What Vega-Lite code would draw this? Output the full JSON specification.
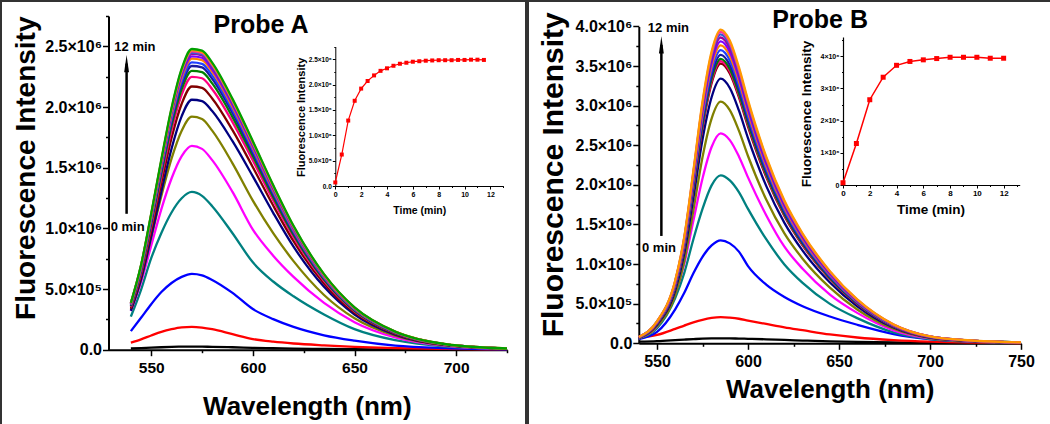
{
"$schema":"https://vega.github.io/schema/vega-lite/v6.json",
"padding":0,
"spacing":0,
"background":"white",
"config":{"view":{"stroke":"#333333","strokeWidth":2},"axis":{"grid":false,"domainColor":"#000000","domainWidth":2,"tickColor":"#000000","tickWidth":1.5,"labelColor":"#000000","titleColor":"#000000","labelFont":"Liberation Sans","titleFont":"Liberation Sans","labelFontWeight":"bold","titleFontWeight":"bold","labelOverlap":false,"labelFlush":false,"labelBound":false},"text":{"font":"Liberation Sans"}},
"datasets":{
"specA":[
{"c":0,"w":540,"v":10000},{"c":0,"w":545,"v":13000},{"c":0,"w":550,"v":17000},{"c":0,"w":555,"v":20000},{"c":0,"w":560,"v":23000},{"c":0,"w":565,"v":25000},{"c":0,"w":570,"v":26000},{"c":0,"w":575,"v":25000},{"c":0,"w":580,"v":24000},{"c":0,"w":590,"v":20000},{"c":0,"w":600,"v":15000},{"c":0,"w":610,"v":12000},{"c":0,"w":620,"v":9000},{"c":0,"w":635,"v":6000},{"c":0,"w":650,"v":4000},{"c":0,"w":670,"v":2000},{"c":0,"w":695,"v":1000},{"c":0,"w":725,"v":0},
{"c":1,"w":540,"v":58000},{"c":1,"w":545,"v":85000},{"c":1,"w":550,"v":117000},{"c":1,"w":555,"v":147000},{"c":1,"w":560,"v":169000},{"c":1,"w":565,"v":184000},{"c":1,"w":570,"v":188000},{"c":1,"w":575,"v":182000},{"c":1,"w":580,"v":169000},{"c":1,"w":590,"v":128000},{"c":1,"w":600,"v":88000},{"c":1,"w":610,"v":66000},{"c":1,"w":620,"v":51000},{"c":1,"w":635,"v":36000},{"c":1,"w":650,"v":24000},{"c":1,"w":670,"v":13000},{"c":1,"w":695,"v":6000},{"c":1,"w":725,"v":2000},
{"c":2,"w":540,"v":153000},{"c":2,"w":545,"v":263000},{"c":2,"w":550,"v":375000},{"c":2,"w":555,"v":475000},{"c":2,"w":560,"v":550000},{"c":2,"w":565,"v":600000},{"c":2,"w":570,"v":625000},{"c":2,"w":575,"v":613000},{"c":2,"w":580,"v":575000},{"c":2,"w":590,"v":468000},{"c":2,"w":600,"v":335000},{"c":2,"w":610,"v":252000},{"c":2,"w":620,"v":188000},{"c":2,"w":635,"v":119000},{"c":2,"w":650,"v":75000},{"c":2,"w":670,"v":34000},{"c":2,"w":695,"v":13000},{"c":2,"w":725,"v":3000},
{"c":3,"w":540,"v":273000},{"c":3,"w":545,"v":494000},{"c":3,"w":550,"v":754000},{"c":3,"w":555,"v":962000},{"c":3,"w":560,"v":1131000},{"c":3,"w":565,"v":1248000},{"c":3,"w":570,"v":1300000},{"c":3,"w":575,"v":1268000},{"c":3,"w":580,"v":1183000},{"c":3,"w":590,"v":960000},{"c":3,"w":600,"v":720000},{"c":3,"w":610,"v":562000},{"c":3,"w":620,"v":440000},{"c":3,"w":635,"v":290000},{"c":3,"w":650,"v":169000},{"c":3,"w":670,"v":78000},{"c":3,"w":695,"v":26000},{"c":3,"w":725,"v":7000},
{"c":4,"w":540,"v":319000},{"c":4,"w":545,"v":554000},{"c":4,"w":550,"v":857000},{"c":4,"w":555,"v":1159000},{"c":4,"w":560,"v":1411000},{"c":4,"w":565,"v":1596000},{"c":4,"w":570,"v":1680000},{"c":4,"w":575,"v":1655000},{"c":4,"w":580,"v":1562000},{"c":4,"w":590,"v":1300000},{"c":4,"w":600,"v":990000},{"c":4,"w":610,"v":775000},{"c":4,"w":620,"v":600000},{"c":4,"w":635,"v":386000},{"c":4,"w":650,"v":227000},{"c":4,"w":670,"v":101000},{"c":4,"w":695,"v":32000},{"c":4,"w":725,"v":7000},
{"c":5,"w":540,"v":326000},{"c":5,"w":545,"v":576000},{"c":5,"w":550,"v":922000},{"c":5,"w":555,"v":1267000},{"c":5,"w":560,"v":1574000},{"c":5,"w":565,"v":1805000},{"c":5,"w":570,"v":1920000},{"c":5,"w":575,"v":1901000},{"c":5,"w":580,"v":1805000},{"c":5,"w":590,"v":1536000},{"c":5,"w":600,"v":1229000},{"c":5,"w":610,"v":960000},{"c":5,"w":620,"v":730000},{"c":5,"w":635,"v":451000},{"c":5,"w":650,"v":259000},{"c":5,"w":670,"v":115000},{"c":5,"w":695,"v":35000},{"c":5,"w":725,"v":8000},
{"c":6,"w":540,"v":321000},{"c":6,"w":545,"v":580000},{"c":6,"w":550,"v":932000},{"c":6,"w":555,"v":1304000},{"c":6,"w":560,"v":1656000},{"c":6,"w":565,"v":1925000},{"c":6,"w":570,"v":2060000},{"c":6,"w":575,"v":2049000},{"c":6,"w":580,"v":1967000},{"c":6,"w":590,"v":1718000},{"c":6,"w":600,"v":1428000},{"c":6,"w":610,"v":1128000},{"c":6,"w":620,"v":849000},{"c":6,"w":635,"v":518000},{"c":6,"w":650,"v":290000},{"c":6,"w":670,"v":124000},{"c":6,"w":695,"v":37000},{"c":6,"w":725,"v":8000},
{"c":7,"w":540,"v":338000},{"c":7,"w":545,"v":610000},{"c":7,"w":550,"v":981000},{"c":7,"w":555,"v":1373000},{"c":7,"w":560,"v":1744000},{"c":7,"w":565,"v":2027000},{"c":7,"w":570,"v":2169000},{"c":7,"w":575,"v":2158000},{"c":7,"w":580,"v":2071000},{"c":7,"w":590,"v":1809000},{"c":7,"w":600,"v":1504000},{"c":7,"w":610,"v":1188000},{"c":7,"w":620,"v":894000},{"c":7,"w":635,"v":545000},{"c":7,"w":650,"v":305000},{"c":7,"w":670,"v":131000},{"c":7,"w":695,"v":39000},{"c":7,"w":725,"v":9000},
{"c":8,"w":540,"v":350000},{"c":8,"w":545,"v":633000},{"c":8,"w":550,"v":1017000},{"c":8,"w":555,"v":1424000},{"c":8,"w":560,"v":1808000},{"c":8,"w":565,"v":2102000},{"c":8,"w":570,"v":2249000},{"c":8,"w":575,"v":2237000},{"c":8,"w":580,"v":2147000},{"c":8,"w":590,"v":1876000},{"c":8,"w":600,"v":1559000},{"c":8,"w":610,"v":1232000},{"c":8,"w":620,"v":927000},{"c":8,"w":635,"v":565000},{"c":8,"w":650,"v":316000},{"c":8,"w":670,"v":136000},{"c":8,"w":695,"v":41000},{"c":8,"w":725,"v":9000},
{"c":9,"w":540,"v":358000},{"c":9,"w":545,"v":647000},{"c":9,"w":550,"v":1040000},{"c":9,"w":555,"v":1455000},{"c":9,"w":560,"v":1848000},{"c":9,"w":565,"v":2148000},{"c":9,"w":570,"v":2298000},{"c":9,"w":575,"v":2287000},{"c":9,"w":580,"v":2195000},{"c":9,"w":590,"v":1917000},{"c":9,"w":600,"v":1594000},{"c":9,"w":610,"v":1259000},{"c":9,"w":620,"v":947000},{"c":9,"w":635,"v":578000},{"c":9,"w":650,"v":323000},{"c":9,"w":670,"v":139000},{"c":9,"w":695,"v":42000},{"c":9,"w":725,"v":9000},
{"c":10,"w":540,"v":364000},{"c":10,"w":545,"v":658000},{"c":10,"w":550,"v":1058000},{"c":10,"w":555,"v":1481000},{"c":10,"w":560,"v":1880000},{"c":10,"w":565,"v":2186000},{"c":10,"w":570,"v":2338000},{"c":10,"w":575,"v":2327000},{"c":10,"w":580,"v":2233000},{"c":10,"w":590,"v":1951000},{"c":10,"w":600,"v":1622000},{"c":10,"w":610,"v":1281000},{"c":10,"w":620,"v":964000},{"c":10,"w":635,"v":588000},{"c":10,"w":650,"v":329000},{"c":10,"w":670,"v":141000},{"c":10,"w":695,"v":42000},{"c":10,"w":725,"v":9000},
{"c":11,"w":540,"v":369000},{"c":11,"w":545,"v":666000},{"c":11,"w":550,"v":1071000},{"c":11,"w":555,"v":1499000},{"c":11,"w":560,"v":1904000},{"c":11,"w":565,"v":2213000},{"c":11,"w":570,"v":2368000},{"c":11,"w":575,"v":2356000},{"c":11,"w":580,"v":2261000},{"c":11,"w":590,"v":1975000},{"c":11,"w":600,"v":1642000},{"c":11,"w":610,"v":1297000},{"c":11,"w":620,"v":976000},{"c":11,"w":635,"v":595000},{"c":11,"w":650,"v":333000},{"c":11,"w":670,"v":143000},{"c":11,"w":695,"v":43000},{"c":11,"w":725,"v":10000},
{"c":12,"w":540,"v":374000},{"c":12,"w":545,"v":675000},{"c":12,"w":550,"v":1085000},{"c":12,"w":555,"v":1518000},{"c":12,"w":560,"v":1928000},{"c":12,"w":565,"v":2241000},{"c":12,"w":570,"v":2398000},{"c":12,"w":575,"v":2386000},{"c":12,"w":580,"v":2290000},{"c":12,"w":590,"v":2000000},{"c":12,"w":600,"v":1663000},{"c":12,"w":610,"v":1313000},{"c":12,"w":620,"v":988000},{"c":12,"w":635,"v":603000},{"c":12,"w":650,"v":337000},{"c":12,"w":670,"v":145000},{"c":12,"w":695,"v":43000},{"c":12,"w":725,"v":10000},
{"c":13,"w":540,"v":377000},{"c":13,"w":545,"v":680000},{"c":13,"w":550,"v":1094000},{"c":13,"w":555,"v":1531000},{"c":13,"w":560,"v":1944000},{"c":13,"w":565,"v":2260000},{"c":13,"w":570,"v":2418000},{"c":13,"w":575,"v":2406000},{"c":13,"w":580,"v":2309000},{"c":13,"w":590,"v":2017000},{"c":13,"w":600,"v":1677000},{"c":13,"w":610,"v":1324000},{"c":13,"w":620,"v":996000},{"c":13,"w":635,"v":608000},{"c":13,"w":650,"v":340000},{"c":13,"w":670,"v":146000},{"c":13,"w":695,"v":44000},{"c":13,"w":725,"v":10000},
{"c":14,"w":540,"v":380000},{"c":14,"w":545,"v":686000},{"c":14,"w":550,"v":1103000},{"c":14,"w":555,"v":1544000},{"c":14,"w":560,"v":1960000},{"c":14,"w":565,"v":2279000},{"c":14,"w":570,"v":2438000},{"c":14,"w":575,"v":2426000},{"c":14,"w":580,"v":2328000},{"c":14,"w":590,"v":2034000},{"c":14,"w":600,"v":1691000},{"c":14,"w":610,"v":1335000},{"c":14,"w":620,"v":1005000},{"c":14,"w":635,"v":613000},{"c":14,"w":650,"v":343000},{"c":14,"w":670,"v":147000},{"c":14,"w":695,"v":44000},{"c":14,"w":725,"v":10000},
{"c":15,"w":540,"v":381000},{"c":15,"w":545,"v":689000},{"c":15,"w":550,"v":1107000},{"c":15,"w":555,"v":1550000},{"c":15,"w":560,"v":1968000},{"c":15,"w":565,"v":2288000},{"c":15,"w":570,"v":2448000},{"c":15,"w":575,"v":2435000},{"c":15,"w":580,"v":2337000},{"c":15,"w":590,"v":2042000},{"c":15,"w":600,"v":1697000},{"c":15,"w":610,"v":1341000},{"c":15,"w":620,"v":1009000},{"c":15,"w":635,"v":615000},{"c":15,"w":650,"v":344000},{"c":15,"w":670,"v":148000},{"c":15,"w":695,"v":44000},{"c":15,"w":725,"v":10000},
{"c":16,"w":540,"v":383000},{"c":16,"w":545,"v":692000},{"c":16,"w":550,"v":1112000},{"c":16,"w":555,"v":1556000},{"c":16,"w":560,"v":1976000},{"c":16,"w":565,"v":2297000},{"c":16,"w":570,"v":2458000},{"c":16,"w":575,"v":2445000},{"c":16,"w":580,"v":2347000},{"c":16,"w":590,"v":2050000},{"c":16,"w":600,"v":1704000},{"c":16,"w":610,"v":1346000},{"c":16,"w":620,"v":1013000},{"c":16,"w":635,"v":618000},{"c":16,"w":650,"v":346000},{"c":16,"w":670,"v":148000},{"c":16,"w":695,"v":44000},{"c":16,"w":725,"v":10000},
{"c":17,"w":540,"v":384000},{"c":17,"w":545,"v":694000},{"c":17,"w":550,"v":1116000},{"c":17,"w":555,"v":1562000},{"c":17,"w":560,"v":1984000},{"c":17,"w":565,"v":2306000},{"c":17,"w":570,"v":2468000},{"c":17,"w":575,"v":2455000},{"c":17,"w":580,"v":2356000},{"c":17,"w":590,"v":2058000},{"c":17,"w":600,"v":1711000},{"c":17,"w":610,"v":1352000},{"c":17,"w":620,"v":1017000},{"c":17,"w":635,"v":620000},{"c":17,"w":650,"v":347000},{"c":17,"w":670,"v":149000},{"c":17,"w":695,"v":45000},{"c":17,"w":725,"v":10000},
{"c":18,"w":540,"v":386000},{"c":18,"w":545,"v":697000},{"c":18,"w":550,"v":1121000},{"c":18,"w":555,"v":1569000},{"c":18,"w":560,"v":1992000},{"c":18,"w":565,"v":2316000},{"c":18,"w":570,"v":2478000},{"c":18,"w":575,"v":2465000},{"c":18,"w":580,"v":2366000},{"c":18,"w":590,"v":2067000},{"c":18,"w":600,"v":1718000},{"c":18,"w":610,"v":1357000},{"c":18,"w":620,"v":1021000},{"c":18,"w":635,"v":623000},{"c":18,"w":650,"v":349000},{"c":18,"w":670,"v":149000},{"c":18,"w":695,"v":45000},{"c":18,"w":725,"v":10000}
],
"specB":[
{"c":0,"w":540,"v":20000},{"c":0,"w":550,"v":27000},{"c":0,"w":560,"v":40000},{"c":0,"w":565,"v":47000},{"c":0,"w":570,"v":53000},{"c":0,"w":575,"v":58000},{"c":0,"w":580,"v":61000},{"c":0,"w":585,"v":63000},{"c":0,"w":590,"v":62000},{"c":0,"w":595,"v":60000},{"c":0,"w":600,"v":57000},{"c":0,"w":610,"v":50000},{"c":0,"w":620,"v":42000},{"c":0,"w":630,"v":35000},{"c":0,"w":645,"v":25000},{"c":0,"w":660,"v":17000},{"c":0,"w":680,"v":10000},{"c":0,"w":700,"v":5000},{"c":0,"w":725,"v":2000},{"c":0,"w":750,"v":1000},
{"c":1,"w":540,"v":73000},{"c":1,"w":550,"v":106000},{"c":1,"w":560,"v":182000},{"c":1,"w":565,"v":224000},{"c":1,"w":570,"v":264000},{"c":1,"w":575,"v":297000},{"c":1,"w":580,"v":320000},{"c":1,"w":585,"v":330000},{"c":1,"w":590,"v":323000},{"c":1,"w":595,"v":310000},{"c":1,"w":600,"v":287000},{"c":1,"w":610,"v":244000},{"c":1,"w":620,"v":201000},{"c":1,"w":630,"v":165000},{"c":1,"w":645,"v":112000},{"c":1,"w":660,"v":73000},{"c":1,"w":680,"v":40000},{"c":1,"w":700,"v":20000},{"c":1,"w":725,"v":8000},{"c":1,"w":750,"v":3000},
{"c":2,"w":540,"v":52000},{"c":2,"w":550,"v":143000},{"c":2,"w":560,"v":429000},{"c":2,"w":565,"v":637000},{"c":2,"w":570,"v":884000},{"c":2,"w":575,"v":1092000},{"c":2,"w":580,"v":1235000},{"c":2,"w":585,"v":1300000},{"c":2,"w":590,"v":1261000},{"c":2,"w":595,"v":1157000},{"c":2,"w":600,"v":975000},{"c":2,"w":610,"v":741000},{"c":2,"w":620,"v":585000},{"c":2,"w":630,"v":468000},{"c":2,"w":645,"v":338000},{"c":2,"w":660,"v":234000},{"c":2,"w":680,"v":117000},{"c":2,"w":700,"v":52000},{"c":2,"w":725,"v":20000},{"c":2,"w":750,"v":7000},
{"c":3,"w":540,"v":64000},{"c":3,"w":550,"v":191000},{"c":3,"w":560,"v":572000},{"c":3,"w":565,"v":890000},{"c":3,"w":570,"v":1314000},{"c":3,"w":575,"v":1696000},{"c":3,"w":580,"v":1993000},{"c":3,"w":585,"v":2120000},{"c":3,"w":590,"v":2056000},{"c":3,"w":595,"v":1908000},{"c":3,"w":600,"v":1696000},{"c":3,"w":610,"v":1314000},{"c":3,"w":620,"v":996000},{"c":3,"w":630,"v":763000},{"c":3,"w":645,"v":498000},{"c":3,"w":660,"v":318000},{"c":3,"w":680,"v":138000},{"c":3,"w":700,"v":53000},{"c":3,"w":725,"v":19000},{"c":3,"w":750,"v":6000},
{"c":4,"w":540,"v":66000},{"c":4,"w":550,"v":212000},{"c":4,"w":560,"v":623000},{"c":4,"w":565,"v":1007000},{"c":4,"w":570,"v":1550000},{"c":4,"w":575,"v":2080000},{"c":4,"w":580,"v":2478000},{"c":4,"w":585,"v":2650000},{"c":4,"w":590,"v":2565000},{"c":4,"w":595,"v":2359000},{"c":4,"w":600,"v":2094000},{"c":4,"w":610,"v":1617000},{"c":4,"w":620,"v":1219000},{"c":4,"w":630,"v":941000},{"c":4,"w":645,"v":615000},{"c":4,"w":660,"v":384000},{"c":4,"w":680,"v":164000},{"c":4,"w":700,"v":61000},{"c":4,"w":725,"v":21000},{"c":4,"w":750,"v":8000},
{"c":5,"w":540,"v":61000},{"c":5,"w":550,"v":214000},{"c":5,"w":560,"v":610000},{"c":5,"w":565,"v":1037000},{"c":5,"w":570,"v":1678000},{"c":5,"w":575,"v":2349000},{"c":5,"w":580,"v":2837000},{"c":5,"w":585,"v":3050000},{"c":5,"w":590,"v":2943000},{"c":5,"w":595,"v":2684000},{"c":5,"w":600,"v":2364000},{"c":5,"w":610,"v":1815000},{"c":5,"w":620,"v":1388000},{"c":5,"w":630,"v":1068000},{"c":5,"w":645,"v":702000},{"c":5,"w":660,"v":427000},{"c":5,"w":680,"v":183000},{"c":5,"w":700,"v":67000},{"c":5,"w":725,"v":24000},{"c":5,"w":750,"v":9000},
{"c":6,"w":540,"v":67000},{"c":6,"w":550,"v":234000},{"c":6,"w":560,"v":668000},{"c":6,"w":565,"v":1136000},{"c":6,"w":570,"v":1837000},{"c":6,"w":575,"v":2572000},{"c":6,"w":580,"v":3106000},{"c":6,"w":585,"v":3340000},{"c":6,"w":590,"v":3223000},{"c":6,"w":595,"v":2939000},{"c":6,"w":600,"v":2589000},{"c":6,"w":610,"v":1987000},{"c":6,"w":620,"v":1520000},{"c":6,"w":630,"v":1169000},{"c":6,"w":645,"v":768000},{"c":6,"w":660,"v":468000},{"c":6,"w":680,"v":200000},{"c":6,"w":700,"v":73000},{"c":6,"w":725,"v":27000},{"c":6,"w":750,"v":10000},
{"c":7,"w":540,"v":71000},{"c":7,"w":550,"v":247000},{"c":7,"w":560,"v":706000},{"c":7,"w":565,"v":1200000},{"c":7,"w":570,"v":1942000},{"c":7,"w":575,"v":2718000},{"c":7,"w":580,"v":3283000},{"c":7,"w":585,"v":3530000},{"c":7,"w":590,"v":3406000},{"c":7,"w":595,"v":3106000},{"c":7,"w":600,"v":2736000},{"c":7,"w":610,"v":2100000},{"c":7,"w":620,"v":1606000},{"c":7,"w":630,"v":1236000},{"c":7,"w":645,"v":812000},{"c":7,"w":660,"v":494000},{"c":7,"w":680,"v":212000},{"c":7,"w":700,"v":78000},{"c":7,"w":725,"v":28000},{"c":7,"w":750,"v":11000},
{"c":8,"w":540,"v":71000},{"c":8,"w":550,"v":249000},{"c":8,"w":560,"v":712000},{"c":8,"w":565,"v":1210000},{"c":8,"w":570,"v":1958000},{"c":8,"w":575,"v":2741000},{"c":8,"w":580,"v":3311000},{"c":8,"w":585,"v":3560000},{"c":8,"w":590,"v":3435000},{"c":8,"w":595,"v":3133000},{"c":8,"w":600,"v":2759000},{"c":8,"w":610,"v":2118000},{"c":8,"w":620,"v":1620000},{"c":8,"w":630,"v":1246000},{"c":8,"w":645,"v":819000},{"c":8,"w":660,"v":498000},{"c":8,"w":680,"v":214000},{"c":8,"w":700,"v":78000},{"c":8,"w":725,"v":28000},{"c":8,"w":750,"v":11000},
{"c":9,"w":540,"v":72000},{"c":9,"w":550,"v":251000},{"c":9,"w":560,"v":718000},{"c":9,"w":565,"v":1221000},{"c":9,"w":570,"v":1975000},{"c":9,"w":575,"v":2764000},{"c":9,"w":580,"v":3339000},{"c":9,"w":585,"v":3590000},{"c":9,"w":590,"v":3464000},{"c":9,"w":595,"v":3159000},{"c":9,"w":600,"v":2782000},{"c":9,"w":610,"v":2136000},{"c":9,"w":620,"v":1633000},{"c":9,"w":630,"v":1257000},{"c":9,"w":645,"v":826000},{"c":9,"w":660,"v":503000},{"c":9,"w":680,"v":215000},{"c":9,"w":700,"v":79000},{"c":9,"w":725,"v":29000},{"c":9,"w":750,"v":11000},
{"c":10,"w":540,"v":73000},{"c":10,"w":550,"v":255000},{"c":10,"w":560,"v":728000},{"c":10,"w":565,"v":1238000},{"c":10,"w":570,"v":2002000},{"c":10,"w":575,"v":2803000},{"c":10,"w":580,"v":3385000},{"c":10,"w":585,"v":3640000},{"c":10,"w":590,"v":3513000},{"c":10,"w":595,"v":3203000},{"c":10,"w":600,"v":2821000},{"c":10,"w":610,"v":2166000},{"c":10,"w":620,"v":1656000},{"c":10,"w":630,"v":1274000},{"c":10,"w":645,"v":837000},{"c":10,"w":660,"v":510000},{"c":10,"w":680,"v":218000},{"c":10,"w":700,"v":80000},{"c":10,"w":725,"v":29000},{"c":10,"w":750,"v":11000},
{"c":11,"w":540,"v":74000},{"c":11,"w":550,"v":259000},{"c":11,"w":560,"v":740000},{"c":11,"w":565,"v":1258000},{"c":11,"w":570,"v":2035000},{"c":11,"w":575,"v":2849000},{"c":11,"w":580,"v":3441000},{"c":11,"w":585,"v":3700000},{"c":11,"w":590,"v":3571000},{"c":11,"w":595,"v":3256000},{"c":11,"w":600,"v":2868000},{"c":11,"w":610,"v":2202000},{"c":11,"w":620,"v":1684000},{"c":11,"w":630,"v":1295000},{"c":11,"w":645,"v":851000},{"c":11,"w":660,"v":518000},{"c":11,"w":680,"v":222000},{"c":11,"w":700,"v":81000},{"c":11,"w":725,"v":30000},{"c":11,"w":750,"v":11000},
{"c":12,"w":540,"v":75000},{"c":12,"w":550,"v":263000},{"c":12,"w":560,"v":752000},{"c":12,"w":565,"v":1278000},{"c":12,"w":570,"v":2068000},{"c":12,"w":575,"v":2895000},{"c":12,"w":580,"v":3497000},{"c":12,"w":585,"v":3760000},{"c":12,"w":590,"v":3628000},{"c":12,"w":595,"v":3309000},{"c":12,"w":600,"v":2914000},{"c":12,"w":610,"v":2237000},{"c":12,"w":620,"v":1711000},{"c":12,"w":630,"v":1316000},{"c":12,"w":645,"v":865000},{"c":12,"w":660,"v":526000},{"c":12,"w":680,"v":226000},{"c":12,"w":700,"v":83000},{"c":12,"w":725,"v":30000},{"c":12,"w":750,"v":11000},
{"c":13,"w":540,"v":76000},{"c":13,"w":550,"v":267000},{"c":13,"w":560,"v":762000},{"c":13,"w":565,"v":1295000},{"c":13,"w":570,"v":2096000},{"c":13,"w":575,"v":2934000},{"c":13,"w":580,"v":3543000},{"c":13,"w":585,"v":3810000},{"c":13,"w":590,"v":3677000},{"c":13,"w":595,"v":3353000},{"c":13,"w":600,"v":2953000},{"c":13,"w":610,"v":2267000},{"c":13,"w":620,"v":1734000},{"c":13,"w":630,"v":1334000},{"c":13,"w":645,"v":876000},{"c":13,"w":660,"v":533000},{"c":13,"w":680,"v":229000},{"c":13,"w":700,"v":84000},{"c":13,"w":725,"v":30000},{"c":13,"w":750,"v":11000},
{"c":14,"w":540,"v":77000},{"c":14,"w":550,"v":270000},{"c":14,"w":560,"v":772000},{"c":14,"w":565,"v":1312000},{"c":14,"w":570,"v":2123000},{"c":14,"w":575,"v":2972000},{"c":14,"w":580,"v":3590000},{"c":14,"w":585,"v":3860000},{"c":14,"w":590,"v":3725000},{"c":14,"w":595,"v":3397000},{"c":14,"w":600,"v":2992000},{"c":14,"w":610,"v":2297000},{"c":14,"w":620,"v":1756000},{"c":14,"w":630,"v":1351000},{"c":14,"w":645,"v":888000},{"c":14,"w":660,"v":540000},{"c":14,"w":680,"v":232000},{"c":14,"w":700,"v":85000},{"c":14,"w":725,"v":31000},{"c":14,"w":750,"v":12000},
{"c":15,"w":540,"v":78000},{"c":15,"w":550,"v":273000},{"c":15,"w":560,"v":780000},{"c":15,"w":565,"v":1326000},{"c":15,"w":570,"v":2145000},{"c":15,"w":575,"v":3003000},{"c":15,"w":580,"v":3627000},{"c":15,"w":585,"v":3900000},{"c":15,"w":590,"v":3764000},{"c":15,"w":595,"v":3432000},{"c":15,"w":600,"v":3023000},{"c":15,"w":610,"v":2321000},{"c":15,"w":620,"v":1775000},{"c":15,"w":630,"v":1365000},{"c":15,"w":645,"v":897000},{"c":15,"w":660,"v":546000},{"c":15,"w":680,"v":234000},{"c":15,"w":700,"v":86000},{"c":15,"w":725,"v":31000},{"c":15,"w":750,"v":12000},
{"c":16,"w":540,"v":79000},{"c":16,"w":550,"v":275000},{"c":16,"w":560,"v":786000},{"c":16,"w":565,"v":1336000},{"c":16,"w":570,"v":2162000},{"c":16,"w":575,"v":3026000},{"c":16,"w":580,"v":3655000},{"c":16,"w":585,"v":3930000},{"c":16,"w":590,"v":3792000},{"c":16,"w":595,"v":3458000},{"c":16,"w":600,"v":3046000},{"c":16,"w":610,"v":2338000},{"c":16,"w":620,"v":1788000},{"c":16,"w":630,"v":1376000},{"c":16,"w":645,"v":904000},{"c":16,"w":660,"v":550000},{"c":16,"w":680,"v":236000},{"c":16,"w":700,"v":86000},{"c":16,"w":725,"v":31000},{"c":16,"w":750,"v":12000},
{"c":17,"w":540,"v":79000},{"c":17,"w":550,"v":277000},{"c":17,"w":560,"v":792000},{"c":17,"w":565,"v":1346000},{"c":17,"w":570,"v":2178000},{"c":17,"w":575,"v":3049000},{"c":17,"w":580,"v":3683000},{"c":17,"w":585,"v":3960000},{"c":17,"w":590,"v":3821000},{"c":17,"w":595,"v":3485000},{"c":17,"w":600,"v":3069000},{"c":17,"w":610,"v":2356000},{"c":17,"w":620,"v":1802000},{"c":17,"w":630,"v":1386000},{"c":17,"w":645,"v":911000},{"c":17,"w":660,"v":554000},{"c":17,"w":680,"v":238000},{"c":17,"w":700,"v":87000},{"c":17,"w":725,"v":32000},{"c":17,"w":750,"v":12000}
],
"insetA":[
{"t":0,"v":70000},{"t":0.5,"v":620000},{"t":1,"v":1290000},{"t":1.5,"v":1680000},{"t":2,"v":1920000},{"t":2.5,"v":2070000},{"t":3,"v":2180000},{"t":3.5,"v":2270000},{"t":4,"v":2320000},{"t":4.5,"v":2370000},{"t":5,"v":2410000},{"t":5.5,"v":2430000},{"t":6,"v":2450000},{"t":6.5,"v":2460000},{"t":7,"v":2470000},{"t":7.5,"v":2475000},{"t":8,"v":2480000},{"t":8.5,"v":2480000},{"t":9,"v":2480000},{"t":9.5,"v":2485000},{"t":10,"v":2485000},{"t":10.5,"v":2490000},{"t":11,"v":2490000},{"t":11.5,"v":2485000}
],
"insetB":[
{"t":0,"v":70000},{"t":1,"v":1290000},{"t":2,"v":2650000},{"t":3,"v":3350000},{"t":4,"v":3720000},{"t":5,"v":3840000},{"t":6,"v":3890000},{"t":7,"v":3930000},{"t":8,"v":3970000},{"t":9,"v":3970000},{"t":10,"v":3970000},{"t":11,"v":3940000},{"t":12,"v":3940000}
]
},
"hconcat":[
{
"width":525,"height":424,
"layer":[
{
"encoding":{
"x":{"field":"w","type":"quantitative","scale":{"domain":[529,725],"range":[107.5,506],"nice":false,"zero":false},
"axis":{"orient":"bottom","offset":-75.3,"values":[550,575,600,625,650,675,700,725],"labelExpr":"datum.value % 50 == 0 ? format(datum.value,'d') : ''","tickSize":{"condition":{"test":"datum.value % 50 == 0","value":6},"value":3},"labelFontSize":15.5,"labelPadding":5,"title":"Wavelength (nm)","titleFontSize":26,"titleX":305.8,"titleY":56.3,"titleBaseline":"middle","titleAlign":"center"}},
"y":{"field":"v","type":"quantitative","scale":{"domain":[0,2750000],"range":[348.7,15],"nice":false,"zero":false},
"axis":{"orient":"left","offset":-107.5,"values":[0,250000,500000,750000,1000000,1250000,1500000,1750000,2000000,2250000,2500000,2750000],"labelExpr":"datum.value % 500000 != 0 ? '' : datum.value == 0 ? '0.0' : datum.value < 1000000 ? format(datum.value/100000,'.1f') + '×10⁵' : format(datum.value/1000000,'.1f') + '×10⁶'","tickSize":{"condition":{"test":"datum.value % 500000 == 0","value":6},"value":3},"labelFontSize":16,"labelPadding":1,"title":"Fluorescence Intensity","titleFontSize":28,"titleX":-82.5,"titleY":166.7,"titleBaseline":"middle","titleAlign":"center","titleAngle":-90}}
},
"layer":[
{"data":{"name":"specA"},"mark":{"type":"line","interpolate":"monotone","strokeWidth":2.3},
"encoding":{"color":{"field":"c","type":"nominal","legend":null,"scale":{"domain":[0,1,2,3,4,5,6,7,8,9,10,11,12,13,14,15,16,17,18],"range":["#000000","#ff0000","#0000ff","#008080","#ff00ff","#808000","#000080","#800000","#ff0080","#008000","#1a1aa0","#2040ff","#ff8000","#8000ff","#a000a0","#3060d0","#ff3399","#ff9900","#00a000"]}}}},
{"data":{"values":[{"w":537.9,"v":1120000,"v2":2357000}]},"mark":{"type":"rule","strokeWidth":2.5,"color":"#000000"},"encoding":{"y2":{"field":"v2"}}},
{"data":{"values":[{"w":537.9,"v":2357000}]},"mark":{"type":"point","shape":"M0,-1L0.28,1L-0.28,1Z","size":300,"filled":true,"color":"#000000","opacity":1},"encoding":{}},
{"data":{"values":[{"w":542,"v":2493000,"label":"12 min"},{"w":538.4,"v":1008000,"label":"0 min"}]},"mark":{"type":"text","fontSize":13,"fontWeight":"bold","align":"center","baseline":"middle","color":"#000000"},"encoding":{"text":{"field":"label"}}},
{"data":{"values":[{"w":604,"v":2676000,"label":"Probe A"}]},"mark":{"type":"text","fontSize":25,"fontWeight":"bold","align":"center","baseline":"middle","color":"#000000"},"encoding":{"text":{"field":"label"}}}
]
},
{
"data":{"name":"insetA"},
"encoding":{
"x":{"field":"t","type":"quantitative","scale":{"domain":[0,13],"range":[334.3,502.3],"nice":false,"zero":false},
"axis":{"orient":"bottom","offset":-239,"values":[0,1,2,3,4,5,6,7,8,9,10,11,12,13],"labelExpr":"datum.value % 2 == 0 ? format(datum.value,'d') : ''","tickSize":{"condition":{"test":"datum.value % 2 == 0","value":3},"value":1.5},"labelFontSize":7,"labelPadding":1,"domainWidth":1,"tickWidth":1,"title":"Time (min)","titleFontSize":10.5,"titleX":418.3,"titleY":24,"titleBaseline":"middle","titleAlign":"center"}},
"y":{"field":"v","type":"quantitative","scale":{"domain":[0,2750000],"range":[185,45.5],"nice":false,"zero":false},
"axis":{"orient":"left","offset":-334.3,"values":[0,250000,500000,750000,1000000,1250000,1500000,1750000,2000000,2250000,2500000,2750000],"labelExpr":"datum.value % 500000 != 0 ? '' : datum.value == 0 ? '0.0' : datum.value < 1000000 ? format(datum.value/100000,'.1f') + '×10⁵' : format(datum.value/1000000,'.1f') + '×10⁶'","tickSize":{"condition":{"test":"datum.value % 500000 == 0","value":3},"value":1.5},"labelFontSize":6.5,"labelPadding":1,"domainWidth":1,"tickWidth":1,"title":"Fluorescence Intensity","titleFontSize":11,"titleX":-34.3,"titleY":115.8,"titleBaseline":"middle","titleAlign":"center","titleAngle":-90}}
},
"layer":[
{"mark":{"type":"line","color":"#ff0000","strokeWidth":1.2},"encoding":{}},
{"mark":{"type":"point","shape":"square","filled":true,"color":"#ff0000","size":16,"opacity":1},"encoding":{}}
]
}
],
"resolve":{"scale":{"x":"independent","y":"independent"},"axis":{"x":"independent","y":"independent"}}
},
{
"width":525,"height":424,
"layer":[
{
"encoding":{
"x":{"field":"w","type":"quantitative","scale":{"domain":[540,750],"range":[110.8,493],"nice":false,"zero":false},
"axis":{"orient":"bottom","offset":-81.7,"values":[550,575,600,625,650,675,700,725,750],"labelExpr":"datum.value % 50 == 0 ? format(datum.value,'d') : ''","tickSize":{"condition":{"test":"datum.value % 50 == 0","value":6},"value":3},"labelFontSize":16,"labelPadding":4,"title":"Wavelength (nm)","titleFontSize":26,"titleX":301.7,"titleY":46,"titleBaseline":"middle","titleAlign":"center"}},
"y":{"field":"v","type":"quantitative","scale":{"domain":[0,4000000],"range":[342.3,25.4],"nice":false,"zero":false},
"axis":{"orient":"left","offset":-110.8,"values":[0,250000,500000,750000,1000000,1250000,1500000,1750000,2000000,2250000,2500000,2750000,3000000,3250000,3500000,3750000,4000000],"labelExpr":"datum.value % 500000 != 0 ? '' : datum.value == 0 ? '0.0' : datum.value < 1000000 ? format(datum.value/100000,'.1f') + '×10⁵' : format(datum.value/1000000,'.1f') + '×10⁶'","tickSize":{"condition":{"test":"datum.value % 500000 == 0","value":6},"value":3},"labelFontSize":16,"labelPadding":1,"title":"Fluorescence Intensity","titleFontSize":30,"titleX":-85.8,"titleY":173.3,"titleBaseline":"middle","titleAlign":"center","titleAngle":-90}}
},
"layer":[
{"data":{"name":"specB"},"mark":{"type":"line","interpolate":"monotone","strokeWidth":2.3},
"encoding":{"color":{"field":"c","type":"nominal","legend":null,"scale":{"domain":[0,1,2,3,4,5,6,7,8,9,10,11,12,13,14,15,16,17],"range":["#000000","#ff0000","#0000ff","#008080","#ff00ff","#808000","#000080","#800000","#800000","#990000","#e8e8e8","#008080","#ff00ff","#ff1493","#4040ff","#ff8000","#cc0000","#808000"]}}}},
{"data":{"values":[{"w":552.4,"v":1355000,"v2":3766000}]},"mark":{"type":"rule","strokeWidth":2.5,"color":"#000000"},"encoding":{"y2":{"field":"v2"}}},
{"data":{"values":[{"w":552.4,"v":3766000}]},"mark":{"type":"point","shape":"M0,-1L0.28,1L-0.28,1Z","size":300,"filled":true,"color":"#000000","opacity":1},"encoding":{}},
{"data":{"values":[{"w":556.3,"v":3981000,"label":"12 min"},{"w":551.1,"v":1203000,"label":"0 min"}]},"mark":{"type":"text","fontSize":13,"fontWeight":"bold","align":"center","baseline":"middle","color":"#000000"},"encoding":{"text":{"field":"label"}}},
{"data":{"values":[{"w":639.6,"v":4080000,"label":"Probe B"}]},"mark":{"type":"text","fontSize":25,"fontWeight":"bold","align":"center","baseline":"middle","color":"#000000"},"encoding":{"text":{"field":"label"}}}
]
},
{
"data":{"name":"insetB"},
"encoding":{
"x":{"field":"t","type":"quantitative","scale":{"domain":[0,13.2],"range":[315,491.7],"nice":false,"zero":false},
"axis":{"orient":"bottom","offset":-240,"values":[0,1,2,3,4,5,6,7,8,9,10,11,12,13],"labelExpr":"datum.value % 2 == 0 ? format(datum.value,'d') : ''","tickSize":{"condition":{"test":"datum.value % 2 == 0","value":3},"value":1.5},"labelFontSize":8,"labelPadding":1,"domainWidth":1.2,"tickWidth":1,"title":"Time (min)","titleFontSize":13.5,"titleX":402.5,"titleY":24.3,"titleBaseline":"middle","titleAlign":"center"}},
"y":{"field":"v","type":"quantitative","scale":{"domain":[0,4600000],"range":[184,36],"nice":false,"zero":false},
"axis":{"orient":"left","offset":-315,"values":[0,500000,1000000,1500000,2000000,2500000,3000000,3500000,4000000,4500000],"labelExpr":"datum.value % 1000000 != 0 ? '' : datum.value == 0 ? '0' : format(datum.value/1000000,'d') + '×10⁶'","tickSize":{"condition":{"test":"datum.value % 1000000 == 0","value":3},"value":1.5},"labelFontSize":7,"labelPadding":1,"domainWidth":1.2,"tickWidth":1,"title":"Fluorescence Intensity","titleFontSize":13.5,"titleX":-36.7,"titleY":112.5,"titleBaseline":"middle","titleAlign":"center","titleAngle":-90}}
},
"layer":[
{"mark":{"type":"line","color":"#ff0000","strokeWidth":1.5},"encoding":{}},
{"mark":{"type":"point","shape":"square","filled":true,"color":"#ff0000","size":25,"opacity":1},"encoding":{}}
]
}
],
"resolve":{"scale":{"x":"independent","y":"independent"},"axis":{"x":"independent","y":"independent"}}
}
]
}
